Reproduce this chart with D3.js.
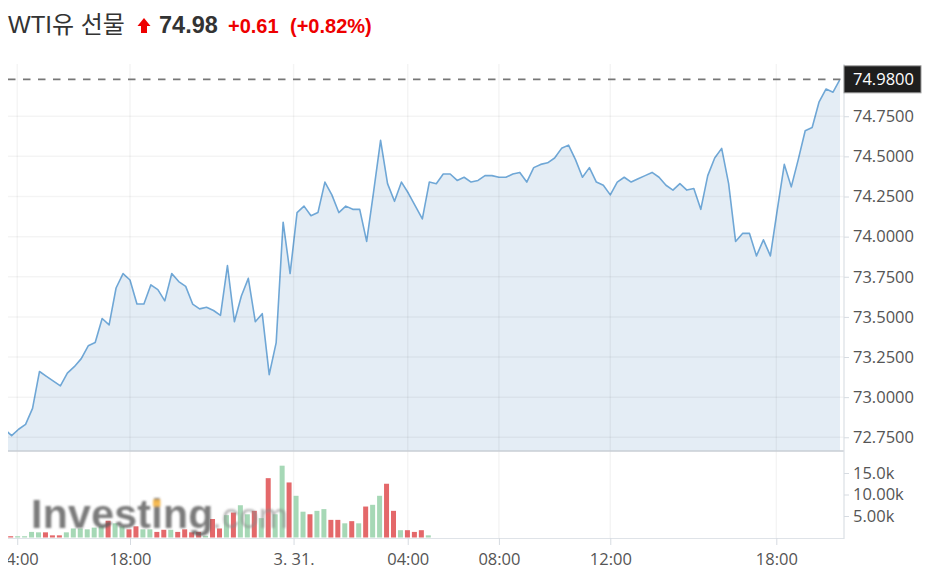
<!DOCTYPE html>
<html><head><meta charset="utf-8">
<script src="https://cdn.jsdelivr.net/npm/d3@7"></script>
<style>
html,body{margin:0;padding:0;background:#fff;}
svg{display:block;}
</style></head>
<body>
<svg id="c" width="930" height="583"></svg>
<script>
// ---------- data ----------
const titleText = "WTI유 선물";
const lastPriceText = "74.98";
const changeText = "+0.61";
const changePctText = "(+0.82%)";
const currentValue = 74.98;

// 15-minute closes, left to right
const priceValues = [72.80, 72.76, 72.80, 72.83, 72.93, 73.16, 73.13, 73.10, 73.07, 73.15,
  73.19, 73.24, 73.32, 73.34, 73.49, 73.45, 73.68, 73.77, 73.73, 73.58,
  73.58, 73.70, 73.67, 73.60, 73.77, 73.72, 73.69, 73.58, 73.55, 73.56,
  73.54, 73.51, 73.82, 73.47, 73.63, 73.74, 73.47, 73.52, 73.14, 73.34,
  74.09, 73.77, 74.15, 74.19, 74.13, 74.15, 74.34, 74.26, 74.15, 74.19,
  74.17, 74.17, 73.97, 74.28, 74.60, 74.33, 74.22, 74.34, 74.27, 74.19,
  74.11, 74.34, 74.33, 74.39, 74.39, 74.35, 74.37, 74.34, 74.35, 74.38,
  74.38, 74.37, 74.37, 74.39, 74.40, 74.34, 74.43, 74.45, 74.46, 74.49,
  74.55, 74.57, 74.48, 74.37, 74.43, 74.34, 74.32, 74.26, 74.34, 74.37,
  74.34, 74.36, 74.38, 74.40, 74.37, 74.32, 74.29, 74.33, 74.29, 74.30,
  74.17, 74.38, 74.49, 74.55, 74.33, 73.97, 74.02, 74.02, 73.88, 73.98,
  73.88, 74.17, 74.45, 74.31, 74.48, 74.66, 74.68, 74.84, 74.92, 74.90,
  74.98];

// volume per bar (only the first bars have volume)
const volumeValues = [0, 300, 300, 300, 1300, 1200, 1200, 500, 500, 1200,
  2100, 2100, 1900, 2300, 2600, 3900, 3300, 2600, 1900, 2600,
  1900, 1900, 1300, 1800, 1800, 1300, 1900, 1200, 1300, 400,
  4300, 2100, 5200, 5800, 7500, 5400, 6200, 4500, 13800, 5400,
  16700, 12800, 9700, 6000, 5400, 6200, 6600, 4100, 4100, 3300,
  3800, 3300, 7200, 7600, 9700, 12500, 6200, 1700, 1700, 1300,
  1700, 500];

const priceTicks = [72.75, 73.0, 73.25, 73.5, 73.75, 74.0, 74.25, 74.5, 74.75];
const volumeTicks = [5000, 10000, 15000];
const volumeTickLabels = ["5.00k", "10.00k", "15.0k"];
const timeTickLabels = ["14:00", "18:00", "3. 31.", "04:00", "08:00", "12:00", "18:00"];
const timeTickIndex = [1.8, 18, 41.5, 57.9, 71, 87, 110.85];

// ---------- layout ----------
const L = 8, R = 844, plotR = 840, T = 64, PB = 451, VT = 451.5, VB = 538;
const svg = d3.select("#c");
const defs = svg.append("defs");
defs.append("clipPath").attr("id", "plotClip").append("rect")
  .attr("x", L).attr("y", T).attr("width", plotR - L).attr("height", PB - T);
defs.append("clipPath").attr("id", "pageClip").append("rect")
  .attr("x", L).attr("y", 0).attr("width", 930 - L).attr("height", 583);
defs.append("filter").attr("id", "soft").append("feGaussianBlur").attr("stdDeviation", 0.8);

const n = priceValues.length;
const x = d3.scaleLinear().domain([0, n - 1]).range([4.7, plotR]);
const [pMin, pMax] = d3.extent(priceValues);
const pad = (pMax - pMin) * 0.043;
const y = d3.scaleLinear().domain([pMin - pad, pMax + pad]).range([PB, T]);
const vy = d3.scaleLinear().domain([0, 20000]).range([537.5, VT]);

const root = svg.append("g").attr("clip-path", "url(#pageClip)");

// ---------- price area + line ----------
const plot = root.append("g").attr("clip-path", "url(#plotClip)");
plot.append("path").datum(priceValues)
  .attr("fill", "#e4edf5")
  .attr("d", d3.area().x((d, i) => x(i)).y0(PB).y1(d => y(d)));

// gridlines
const grid = root.append("g").attr("stroke", "rgba(0,0,0,0.045)").attr("stroke-width", 1.5);
grid.selectAll("line.h").data(priceTicks).join("line")
  .attr("x1", L).attr("x2", R).attr("y1", d => y(d)).attr("y2", d => y(d));
grid.selectAll("line.v").data(timeTickIndex).join("line")
  .attr("x1", d => x(d)).attr("x2", d => x(d)).attr("y1", T).attr("y2", VB);

plot.append("path").datum(priceValues)
  .attr("fill", "none").attr("stroke", "#6fa7d6").attr("stroke-width", 1.6)
  .attr("stroke-linejoin", "round")
  .attr("d", d3.line().x((d, i) => x(i)).y(d => y(d)));

// panel borders
root.append("line").attr("x1", L).attr("x2", R).attr("y1", PB).attr("y2", PB)
  .attr("stroke", "#c9ced4").attr("stroke-width", 1.5);
root.append("line").attr("x1", L).attr("x2", R).attr("y1", VB + 0.5).attr("y2", VB + 0.5)
  .attr("stroke", "#dfe3e8").attr("stroke-width", 1);
root.append("line").attr("x1", R).attr("x2", R).attr("y1", T).attr("y2", VB + 1)
  .attr("stroke", "#dadfe5").attr("stroke-width", 1.2);

// ---------- volume bars ----------
const vol = volumeValues.map((v, i) => ({ i, v, up: i === 0 || priceValues[i] >= priceValues[i - 1] }));
root.append("g").selectAll("rect").data(vol.filter(d => d.v > 0)).join("rect")
  .attr("x", d => x(d.i) - 3.5).attr("width", 5)
  .attr("y", d => vy(d.v)).attr("height", d => vy(0) - vy(d.v))
  .attr("fill", d => d.up ? "#a6d8b6" : "#e4686a");

// watermark
const wm = root.append("g").attr("filter", "url(#soft)");
wm.append("text").attr("x", 31).attr("y", 528)
  .attr("font-family", "Liberation Sans, Arial, sans-serif").attr("font-weight", "bold")
  .attr("font-size", 41).attr("letter-spacing", 0.3)
  .attr("fill", "#5a5a5a").attr("fill-opacity", 0.8).text("Investing");
wm.append("text").attr("x", 212).attr("y", 528)
  .attr("font-family", "Liberation Sans, Arial, sans-serif")
  .attr("font-size", 35)
  .attr("fill", "#8a8a8a").attr("fill-opacity", 0.6).text(".com");
wm.append("rect").attr("x", 153).attr("y", 499.5).attr("width", 7.5).attr("height", 7)
  .attr("fill", "#f6b544").attr("fill-opacity", 0.9);

// ---------- axes ----------
const axisFont = "Open Sans, Noto Sans, sans-serif";
const pa = root.append("g").attr("transform", `translate(${R},0)`)
  .call(d3.axisRight(y).tickValues(priceTicks).tickFormat(d3.format(".4f")).tickSize(5).tickPadding(4));
const va = root.append("g").attr("transform", `translate(${R},0)`)
  .call(d3.axisRight(vy).tickValues(volumeTicks).tickFormat((d, i) => volumeTickLabels[i]).tickSize(5).tickPadding(4));
const xa = root.append("g").attr("transform", `translate(0,${VB})`)
  .call(d3.axisBottom(x).tickValues(timeTickIndex).tickFormat((d, i) => timeTickLabels[i]).tickSize(7).tickPadding(8));
[pa, va, xa].forEach(a => {
  a.select(".domain").remove();
  a.selectAll(".tick line").attr("stroke", "#d6dbe1");
  a.selectAll(".tick text").attr("fill", "#555").attr("font-family", axisFont).attr("font-size", 16.5);
});

// current value marker
const cy = y(currentValue);
root.append("line").attr("x1", L).attr("x2", R).attr("y1", cy).attr("y2", cy)
  .attr("stroke", "#777").attr("stroke-width", 1.7).attr("stroke-dasharray", "7.5 7.5");
root.append("rect").attr("x", R).attr("y", cy - 13.5).attr("width", 77).attr("height", 27)
  .attr("fill", "#1e1e1e").attr("stroke", "#9a9a9a").attr("stroke-width", 1);
root.append("text").attr("x", R + 9).attr("y", cy).attr("dy", "0.35em")
  .attr("fill", "#fff").attr("font-family", axisFont).attr("font-size", 16.5)
  .text(d3.format(".4f")(currentValue));

// ---------- title ----------
const tf = "Liberation Sans, Arial, 'Noto Sans CJK KR', sans-serif";
svg.append("text").attr("x", 8).attr("y", 33)
  .attr("font-family", tf).attr("font-size", 24).attr("fill", "#333").text(titleText);
svg.append("path")
  .attr("d", "M144,18 L150.5,26 L147,26 L147,33 L141,33 L141,26 L137.5,26 Z")
  .attr("fill", "#ee0000");
svg.append("text").attr("x", 159).attr("y", 33)
  .attr("font-family", tf).attr("font-size", 23.5).attr("font-weight", "bold").attr("fill", "#333").text(lastPriceText);
svg.append("text").attr("x", 228).attr("y", 33)
  .attr("font-family", tf).attr("font-size", 20).attr("font-weight", "bold").attr("fill", "#ee0000").text(changeText);
svg.append("text").attr("x", 290).attr("y", 33)
  .attr("font-family", tf).attr("font-size", 20).attr("font-weight", "bold").attr("fill", "#ee0000").text(changePctText);
</script>
</body></html>
